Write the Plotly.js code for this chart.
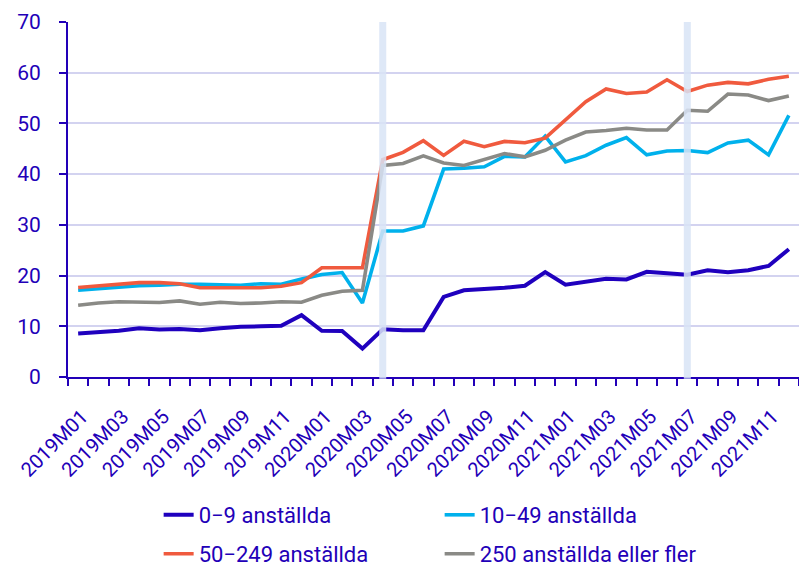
<!DOCTYPE html>
<html>
<head>
<meta charset="utf-8">
<script src="https://cdn.plot.ly/plotly-3.0.1.min.js"></script>
<style>html,body{margin:0;padding:0;background:#fff;overflow:hidden}#chart{width:799px;height:568px}</style>
</head>
<body>
<div id="chart"></div>
<script>
var months = ["2019M01","2019M02","2019M03","2019M04","2019M05","2019M06","2019M07","2019M08","2019M09","2019M10","2019M11","2019M12",
"2020M01","2020M02","2020M03","2020M04","2020M05","2020M06","2020M07","2020M08","2020M09","2020M10","2020M11","2020M12",
"2021M01","2021M02","2021M03","2021M04","2021M05","2021M06","2021M07","2021M08","2021M09","2021M10","2021M11","2021M12"];
var tickLabels = ["2019M01","","2019M03","","2019M05","","2019M07","","2019M09","","2019M11","",
"2020M01","","2020M03","","2020M05","","2020M07","","2020M09","","2020M11","",
"2021M01","","2021M03","","2021M05","","2021M07","","2021M09","","2021M11",""];
var seriesNames = ["0\u22129 anställda","10\u221249 anställda","50\u2212249 anställda","250 anställda eller fler"];
var s0_9 = [8.6,8.8,9.1,9.6,9.35,9.45,9.2,9.6,9.9,10.0,10.1,12.2,9.1,9.05,5.6,9.4,9.2,9.2,15.8,17.1,17.3,17.6,18.0,20.7,18.2,18.75,19.35,19.25,20.75,20.45,20.15,21.05,20.65,21.05,21.9,25.2];
var s10_49 = [17.1,17.4,17.8,18.0,18.1,18.3,18.3,18.2,18.1,18.4,18.3,19.3,20.2,20.6,14.6,28.8,28.8,29.8,41.0,41.15,41.45,43.5,43.4,47.5,42.4,43.65,45.7,47.2,43.8,44.55,44.65,44.25,46.15,46.7,43.8,51.6];
var s50_249 = [17.65,18.0,18.4,18.6,18.6,18.4,17.6,17.6,17.6,17.6,17.9,18.6,21.55,21.55,21.55,42.85,44.3,46.6,43.7,46.5,45.4,46.45,46.2,47.1,50.7,54.3,56.8,55.9,56.2,58.6,56.3,57.55,58.1,57.8,58.7,59.3];
var s250 = [14.15,14.6,14.85,14.85,14.7,15.0,14.35,14.75,14.5,14.6,14.85,14.75,16.1,16.9,17.1,41.7,42.1,43.6,42.2,41.7,42.9,44.05,43.4,44.7,46.7,48.3,48.6,49.05,48.7,48.7,52.6,52.4,55.8,55.6,54.5,55.4];
var markedMonths = ["2020M04","2021M07"];

var colors = ["#1f00be","#00b1ec","#f05a3e","#8a8a86"];
var widths = [4,3.6,3.6,3.6];
var txt = "#2200b8";
var fontFam = "Roboto, 'Open Sans', sans-serif";
var allSeries = [s0_9, s10_49, s50_249, s250];
var legendIds = ["legend","legend","legend2","legend2"];

var traces = allSeries.map(function(s,i){
  return {x: months, y: s, type: "scatter", mode: "lines", name: seriesNames[i],
    line: {color: colors[i], width: widths[i]}, legend: legendIds[i], hoverinfo: "x+y+name"};
});

var shapes = markedMonths.map(function(m){
  var idx = months.indexOf(m);
  return {type: "line", xref: "x", yref: "paper", x0: idx, x1: idx, y0: -0.005, y1: 1,
    line: {color: "#d9e4f6", width: 7}, opacity: 0.85, layer: "above"};
});

var legendCommon = {orientation: "h", xanchor: "left", yanchor: "middle", x: 0.124,
  xref: "paper", yref: "container",
  font: {family: fontFam, size: 22, color: txt}, bgcolor: "rgba(0,0,0,0)", borderwidth: 0,
  itemwidth: 30, entrywidth: 236, entrywidthmode: "pixels", traceorder: "normal"};

var layout = {
  width: 799, height: 568,
  margin: {l: 68, r: 0, t: 22, b: 191, autoexpand: false},
  paper_bgcolor: "#fff", plot_bgcolor: "#fff",
  font: {family: fontFam, color: txt},
  showlegend: true,
  legend: Object.assign({}, legendCommon, {y: 1 - 515/568}),
  legend2: Object.assign({}, legendCommon, {y: 1 - 554/568}),
  xaxis: {type: "category", range: [-0.5, months.length - 0.5], tickmode: "array", tickvals: months, ticktext: tickLabels,
    tickson: "boundaries", ticks: "outside", ticklen: 7, tickwidth: 2, tickcolor: txt,
    showline: true, linecolor: txt, linewidth: 2, showgrid: false, zeroline: false, automargin: false,
    ticklabelstandoff: 18, ticklabelshift: 4,
    tickangle: -45, tickfont: {family: fontFam, size: 20, color: txt}, fixedrange: true},
  yaxis: {range: [0, 70], dtick: 10, tick0: 0, ticks: "outside", ticklen: 7, tickwidth: 2,
    tickcolor: txt, showline: true, linecolor: txt, linewidth: 2, showgrid: true, automargin: false,
    gridcolor: "#d3d3f0", gridwidth: 2, zeroline: false, ticklabelstandoff: 14,
    tickfont: {family: fontFam, size: 21, color: txt}, fixedrange: true},
  shapes: shapes
};

Plotly.newPlot("chart", traces, layout, {displayModeBar: false, staticPlot: true});
</script>
</body>
</html>
